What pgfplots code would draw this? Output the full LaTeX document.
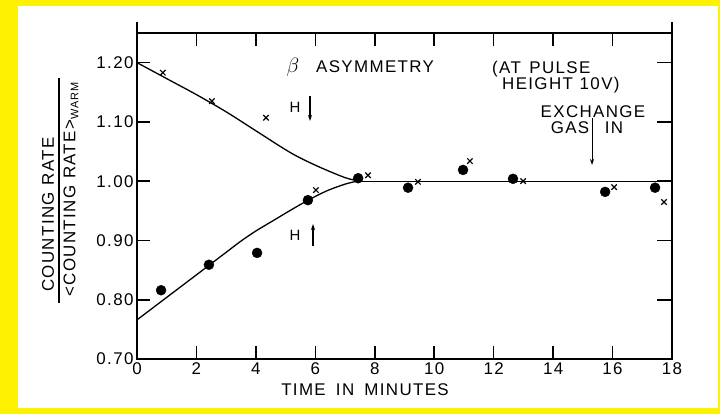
\documentclass[border=0pt]{standalone}
\usepackage{pgfplots}
\pgfplotsset{compat=1.18}
\usetikzlibrary{arrows.meta}
\usepackage{fontspec}
\setmainfont{Liberation Sans}
\newfontfamily\lettering[LetterSpace=8]{Liberation Sans}
\newcommand\lf{\lettering\fontsize{17}{17}\selectfont}
\begin{document}
\begin{tikzpicture}
\fill[yellow] (0bp,0bp) rectangle (720bp,414bp);
\fill[white] (18bp,6bp) rectangle (718bp,408bp);
\useasboundingbox (0bp,0bp) rectangle (720bp,414bp);
\begin{axis}[
  at={(137bp,55bp)}, anchor=south west,
  scale only axis, width=535bp, height=326bp,
  xmin=0, xmax=18, ymin=0.7, ymax=1.25,
  xtick={0,2,4,6,8,10,12,14,16,18},
  ytick={0.7,0.8,0.9,1.0,1.1,1.2},
  tick align=inside,
  major tick length=13bp,
  tick style={black, line width=1.6bp},
  axis line style={line width=1.4bp},
  ticklabel style={font=\lf},
  /pgf/number format/assume math mode=true,
  yticklabel style={/pgf/number format/.cd, fixed, fixed zerofill, precision=2},
  clip=false,
]
% curves
\addplot[black, line width=1.3bp, smooth, no marks] coordinates {
(0,1.200) (1,1.173) (2,1.146) (3,1.117) (4,1.085) (5,1.053) (5.5,1.039) (6,1.027) (6.5,1.016) (7,1.006) (7.3,1.002) (7.6,1.000)};
\addplot[black, line width=1.3bp, smooth, no marks] coordinates {
(0,0.766) (1,0.804) (2,0.842) (3,0.880) (3.5,0.899) (4,0.916) (4.6,0.934) (5.2,0.952) (5.76,0.968) (6.4,0.984) (7,0.995) (7.4,1.000)};
\addplot[black, line width=1.3bp, no marks] coordinates {(7.4,1.0) (18,1.0)};
% dots
\addplot[only marks, mark=*, mark size=5bp, black] coordinates {
(0.81,0.816) (2.42,0.859) (4.04,0.879) (5.75,0.968) (7.44,1.005)
(9.12,0.989) (10.97,1.019) (12.65,1.004) (15.75,0.982) (17.43,0.989)};
% crosses
\addplot[only marks, mark=x, mark size=3.8bp, black, line width=1.2bp] coordinates {
(0.87,1.183) (2.52,1.135) (4.34,1.107) (6.02,0.985) (7.77,1.010)
(9.45,0.999) (11.2,1.034) (12.99,1.000) (16.05,0.990) (17.73,0.965)};
\end{axis}
\begin{scope}[x=1bp,y=1bp]
% tick marks along the frame
\foreach \k in {2,4,...,16}{
  \draw[line width=1.6bp] ({137+29.7222*\k},55) -- ++(0,13);
  \draw[line width=1.6bp] ({137+29.7222*\k},381) -- ++(0,-13);
}
\foreach \v in {0.8,0.9,1.0,1.1,1.2}{
  \draw[line width=1.6bp] (137,{55+592.727*(\v-0.7)}) -- ++(13,0);
  \draw[line width=1.6bp] (672,{55+592.727*(\v-0.7)}) -- ++(-15,0);
}
% axis line extensions
\draw[line width=1.4bp] (137,381) -- (137,392);
\draw[line width=1.4bp] (672,381) -- (672,392);
\end{scope}
% y label
\node[rotate=90, anchor=west, inner sep=0] at (48bp,122bp) {\lf COUNTING\hspace{0.4em}RATE};
\node[rotate=90, anchor=west, inner sep=0] at (71bp,117bp) {\lf \textless COUNTING\hspace{0.4em}RATE\textgreater\raisebox{-0.35ex}{\lettering\fontsize{11}{11}\selectfont WARM}};
\draw[line width=1.1bp] (59bp,111bp) -- (59bp,336bp);
% x label
\node[inner sep=0] at (365bp,24bp) {\lf TIME\hspace{0.6em}IN\hspace{0.6em}MINUTES};
% annotations
\node[inner sep=0] at (293bp,347bp) {\fontsize{22}{22}\selectfont$\beta$};
\node[anchor=west, inner sep=0] at (316bp,347bp) {\lf ASYMMETRY};
\node[anchor=west, inner sep=0] at (492bp,345bp) {\lf (AT\hspace{0.5em}PULSE};
\node[anchor=west, inner sep=0] at (502bp,329bp) {\lf HEIGHT\hspace{0.4em}10V)};
\node[inner sep=0] at (593bp,302bp) {\lf EXCHANGE};
\node[inner sep=0] at (570bp,286bp) {\lf GAS};
\node[inner sep=0] at (614bp,286bp) {\lf IN};
\draw[line width=1bp, -{Stealth[length=6bp,width=4bp]}] (592bp,296bp) -- (592bp,249bp);
\node[inner sep=0] at (295bp,307bp) {\lettering\fontsize{15}{15}\selectfont H};
\draw[line width=1.3bp, -{Stealth[length=6bp,width=4bp]}] (310bp,318bp) -- (310bp,293bp);
\node[inner sep=0] at (295bp,179bp) {\lettering\fontsize{15}{15}\selectfont H};
\draw[line width=1.3bp, -{Stealth[length=6bp,width=4bp]}] (313bp,168bp) -- (313bp,190bp);
\end{tikzpicture}
\end{document}
